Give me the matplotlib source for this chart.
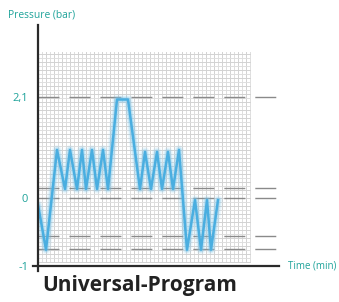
import matplotlib
matplotlib.use("Agg")
import matplotlib.pyplot as plt
import numpy as np

# ---- data (pressure in bar, time in arbitrary minutes) ----
time_min = [0, 2, 4.75, 6.75, 8, 9.75, 11, 12, 13.5, 14.75, 16.25, 17.5,
            19.75, 22.5, 25.5, 26.75, 28.25, 29.75, 31, 32.5, 33.75, 35.25,
            37.25, 39.25, 40.75, 42.25, 43.25, 45]
pressure_bar = [-0.1, -0.76, 1.0, 0.19, 1.0, 0.19, 1.0, 0.19, 1.0, 0.19, 1.0, 0.19,
                2.05, 2.05, 0.19, 0.96, 0.19, 0.96, 0.19, 0.96, 0.19, 1.0,
                -0.76, -0.03, -0.76, -0.03, -0.76, -0.03]
ref_levels = [2.1, 0.21, 0.0, -0.56, -0.75]
ytick_vals = [2.1, 0, -1]
ytick_labels = ["2,1", "0", "-1"]

TEAL = "#1fa39a"
W, H = 339, 302
fig = plt.figure(figsize=(W / 100, H / 100), dpi=100)

# axes placed in pixel terms: origin (38,266), right end 279, top 25
x0, x1, ytop, ybot = 38, 279, 25, 266
ax = fig.add_axes([x0 / W, 1 - ybot / H, (x1 - x0) / W, (ybot - ytop) / H])

# piecewise scale: positive side 48.1 px/bar, negative side 68 px/bar
def fwd(y):
    y = np.asarray(y, dtype=float)
    return np.where(y >= 0, y * 48.1, y * 68.0)

def inv(p):
    p = np.asarray(p, dtype=float)
    return np.where(p >= 0, p / 48.1, p / 68.0)

ax.set_yscale("function", functions=(fwd, inv))
ax.set_xlim(0, (x1 - x0) / 4)
ax.set_ylim(-1, 3.6)

for s in ax.spines.values():
    s.set_visible(False)
ax.set_xticks([])
ax.set_yticks(ytick_vals)
ax.set_yticklabels(ytick_labels, color=TEAL, fontsize=8, family="Open Sans")
ax.tick_params(axis="y", length=0, pad=7)

# fine grid (4 px cells)
gx_max = (250 - x0) / 4
g_top = 3.04
g_bot = -0.94
xs = np.arange(0, gx_max + 0.01, 1.0)
for i, xv in enumerate(xs):
    ax.plot([xv, xv], [g_bot, g_top], color="#dedede" if i % 2 else "#d2d2d2",
            lw=0.7, zorder=1)
ppx = np.arange(266 - 4, 52 - 0.1, -4)
for j, p in enumerate(ppx):
    yv = float(inv(198 - p))
    ax.plot([0, gx_max], [yv, yv], color="#dedede" if j % 2 else "#d2d2d2",
            lw=0.7, zorder=1)

# dashed reference lines
for lv in ref_levels:
    ax.plot([0, (x1 - x0) / 4], [lv, lv], color="#8a8a8a", lw=1.0,
            dashes=(15.1, 7.2), zorder=2)

# glowing blue line
for lw, a in [(7, 0.12), (5, 0.2), (3.5, 0.35)]:
    ax.plot(time_min, pressure_bar, color="#7cc6ec", lw=lw, alpha=a,
            solid_joinstyle="round", solid_capstyle="round", zorder=3)
ax.plot(time_min, pressure_bar, color="#4aaee0", lw=1.8,
        solid_joinstyle="round", zorder=4)

# axis lines (drawn in figure pixels)
def fx(px):
    return px / W

def fy(py):
    return 1 - py / H

fig.add_artist(plt.Line2D([fx(38), fx(38)], [fy(25), fy(271)], color="#2a2a2a", lw=1.6))
fig.add_artist(plt.Line2D([fx(33), fx(279)], [fy(266), fy(266)], color="#2a2a2a", lw=1.6))

fig.text(fx(8), fy(15), "Pressure (bar)", color=TEAL, fontsize=7.4,
         family="Open Sans", va="center", ha="left")
fig.text(fx(288), fy(266), "Time (min)", color=TEAL, fontsize=7,
         family="Open Sans", va="center", ha="left")
fig.text(fx(42), fy(285), "Universal-Program", color="#222222", fontsize=15,
         family="Open Sans", weight="bold", va="center", ha="left")

fig.savefig("out.png", dpi=100)
